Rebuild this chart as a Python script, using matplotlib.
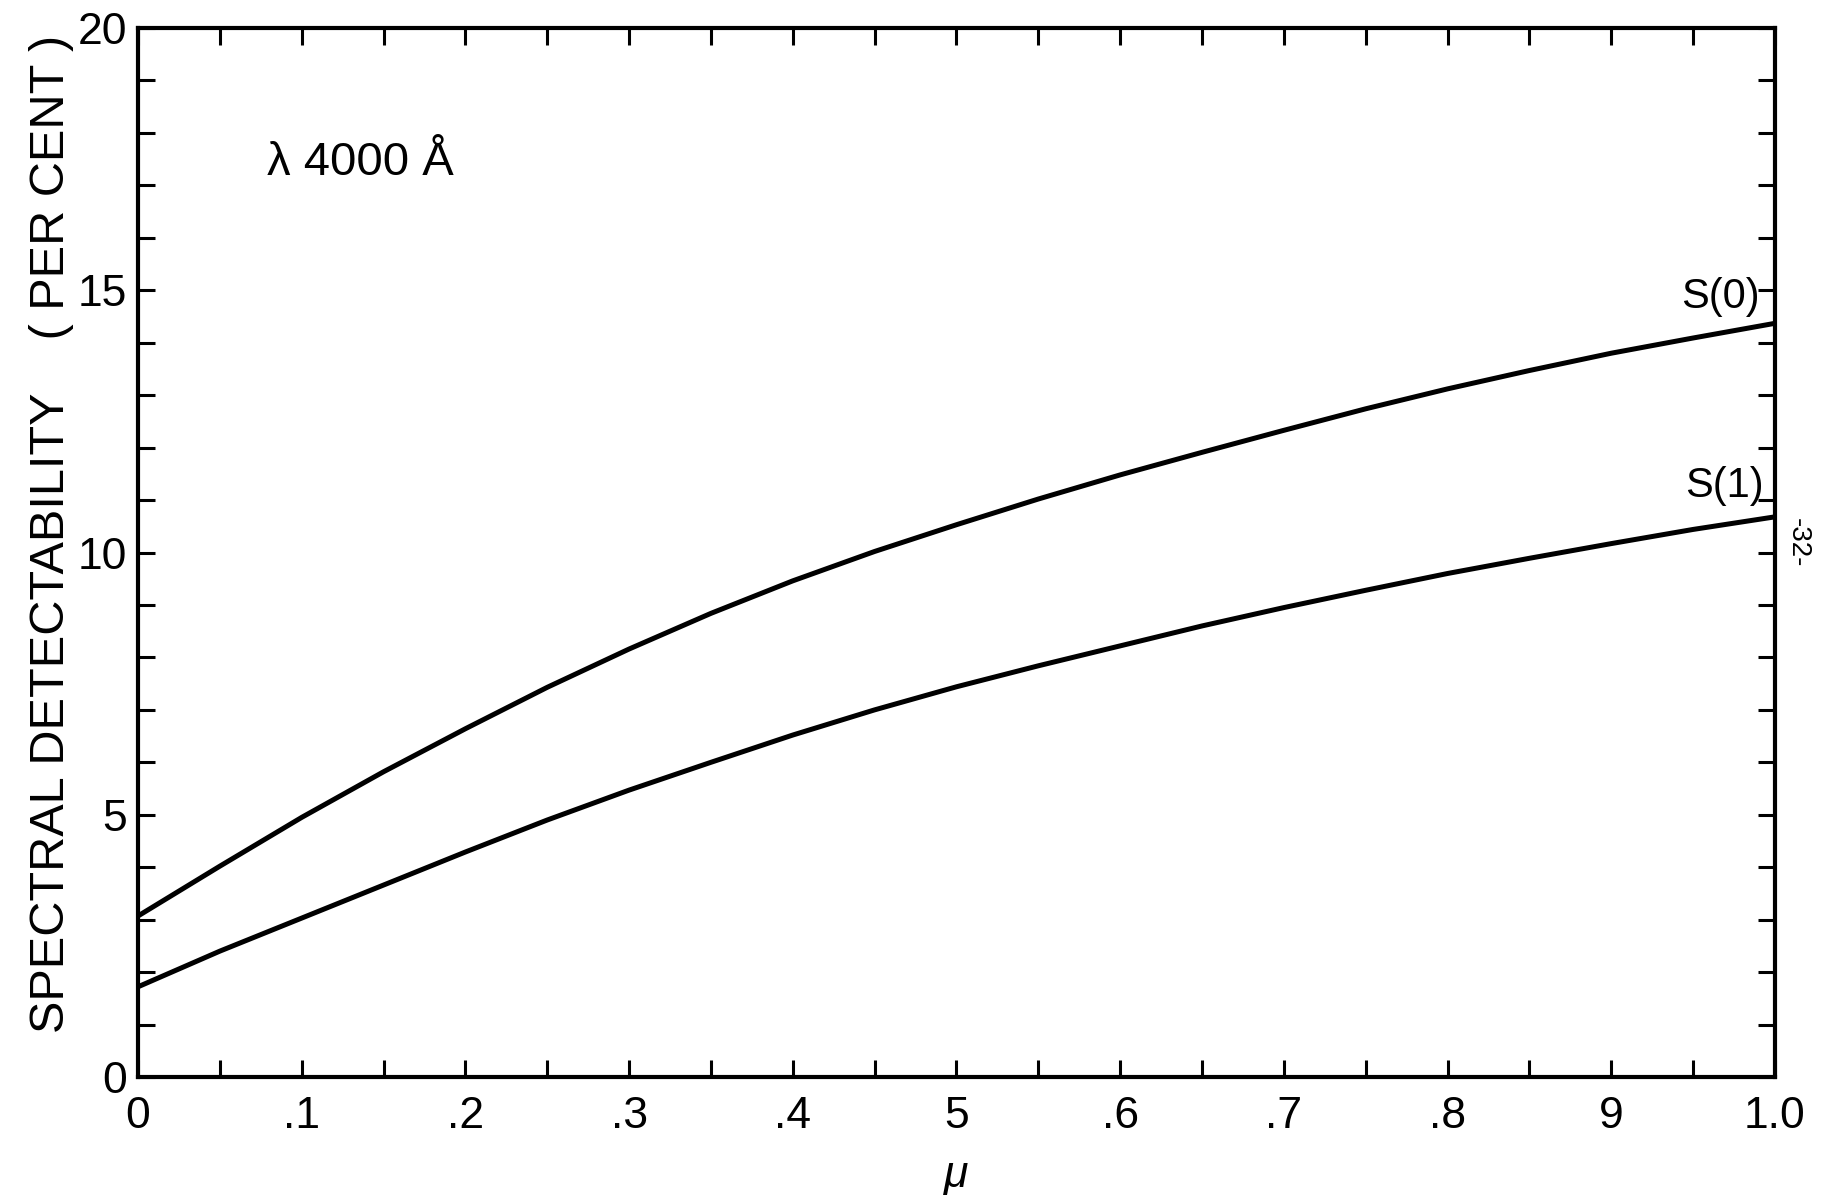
import matplotlib
matplotlib.use("Agg")
import matplotlib.pyplot as plt
from matplotlib.ticker import MultipleLocator, FixedLocator, FixedFormatter

# Spectral detectability at 4000 A versus mu
mu = [0.00, 0.05, 0.10, 0.15, 0.20, 0.25, 0.30, 0.35, 0.40, 0.45, 0.50,
      0.55, 0.60, 0.65, 0.70, 0.75, 0.80, 0.85, 0.90, 0.95, 1.00]
s0 = [3.07, 4.02, 4.95, 5.82, 6.64, 7.43, 8.16, 8.84, 9.46, 10.02, 10.53,
      11.02, 11.48, 11.91, 12.33, 12.74, 13.12, 13.47, 13.80, 14.09, 14.37]
s1 = [1.72, 2.40, 3.03, 3.66, 4.29, 4.90, 5.47, 6.00, 6.52, 7.00, 7.44,
      7.84, 8.22, 8.60, 8.95, 9.28, 9.60, 9.89, 10.17, 10.44, 10.68]

x_ticks = [0, 0.1, 0.2, 0.3, 0.4, 0.5, 0.6, 0.7, 0.8, 0.9, 1.0]
x_tick_labels = ["0", ".1", ".2", ".3", ".4", "5", ".6", ".7", ".8", "9", "1.0"]
y_ticks = [0, 5, 10, 15, 20]
y_tick_labels = ["0", "5", "10", "15", "20"]

plt.rcParams["font.family"] = ["Liberation Sans", "DejaVu Sans"]

fig = plt.figure(figsize=(18.21, 11.98), dpi=100)
ax = fig.add_axes([0.0758, 0.101, 0.8989, 0.8756])

ax.plot(mu, s0, color="black", lw=3.6, solid_capstyle="butt")
ax.plot(mu, s1, color="black", lw=3.6, solid_capstyle="butt")

ax.set_xlim(0, 1.0)
ax.set_ylim(0, 20)

ax.xaxis.set_major_locator(FixedLocator(x_ticks))
ax.xaxis.set_major_formatter(FixedFormatter(x_tick_labels))
ax.xaxis.set_minor_locator(MultipleLocator(0.05))
ax.yaxis.set_major_locator(FixedLocator(y_ticks))
ax.yaxis.set_major_formatter(FixedFormatter(y_tick_labels))
ax.yaxis.set_minor_locator(MultipleLocator(1))

ax.tick_params(which="both", direction="in", length=12, width=2.2,
               top=True, right=True, color="black")
ax.tick_params(axis="x", which="major", labelsize=32, pad=14)
ax.tick_params(axis="y", which="major", labelsize=32, pad=8)
for sp in ax.spines.values():
    sp.set_linewidth(3)

# curve labels and wavelength note
ax.text(0.079, 17.2, "λ 4000 Å", fontsize=34, ha="left", va="baseline")
ax.text(0.991, 14.66, "S(0)", fontsize=30, ha="right", va="baseline")
ax.text(0.993, 11.06, "S(1)", fontsize=30, ha="right", va="baseline")

fig.text(0.0285, 0.554, "SPECTRAL DETECTABILITY    ( PER CENT )",
         rotation=90, fontsize=35, ha="center", va="center")
fig.text(0.525, 0.009, "μ", fontsize=32, style="italic",
         ha="center", va="baseline")
fig.text(0.987, 0.547, "-32-", rotation=-90, fontsize=20,
         ha="center", va="center")

fig.savefig("out.png", dpi=100, facecolor="white")
